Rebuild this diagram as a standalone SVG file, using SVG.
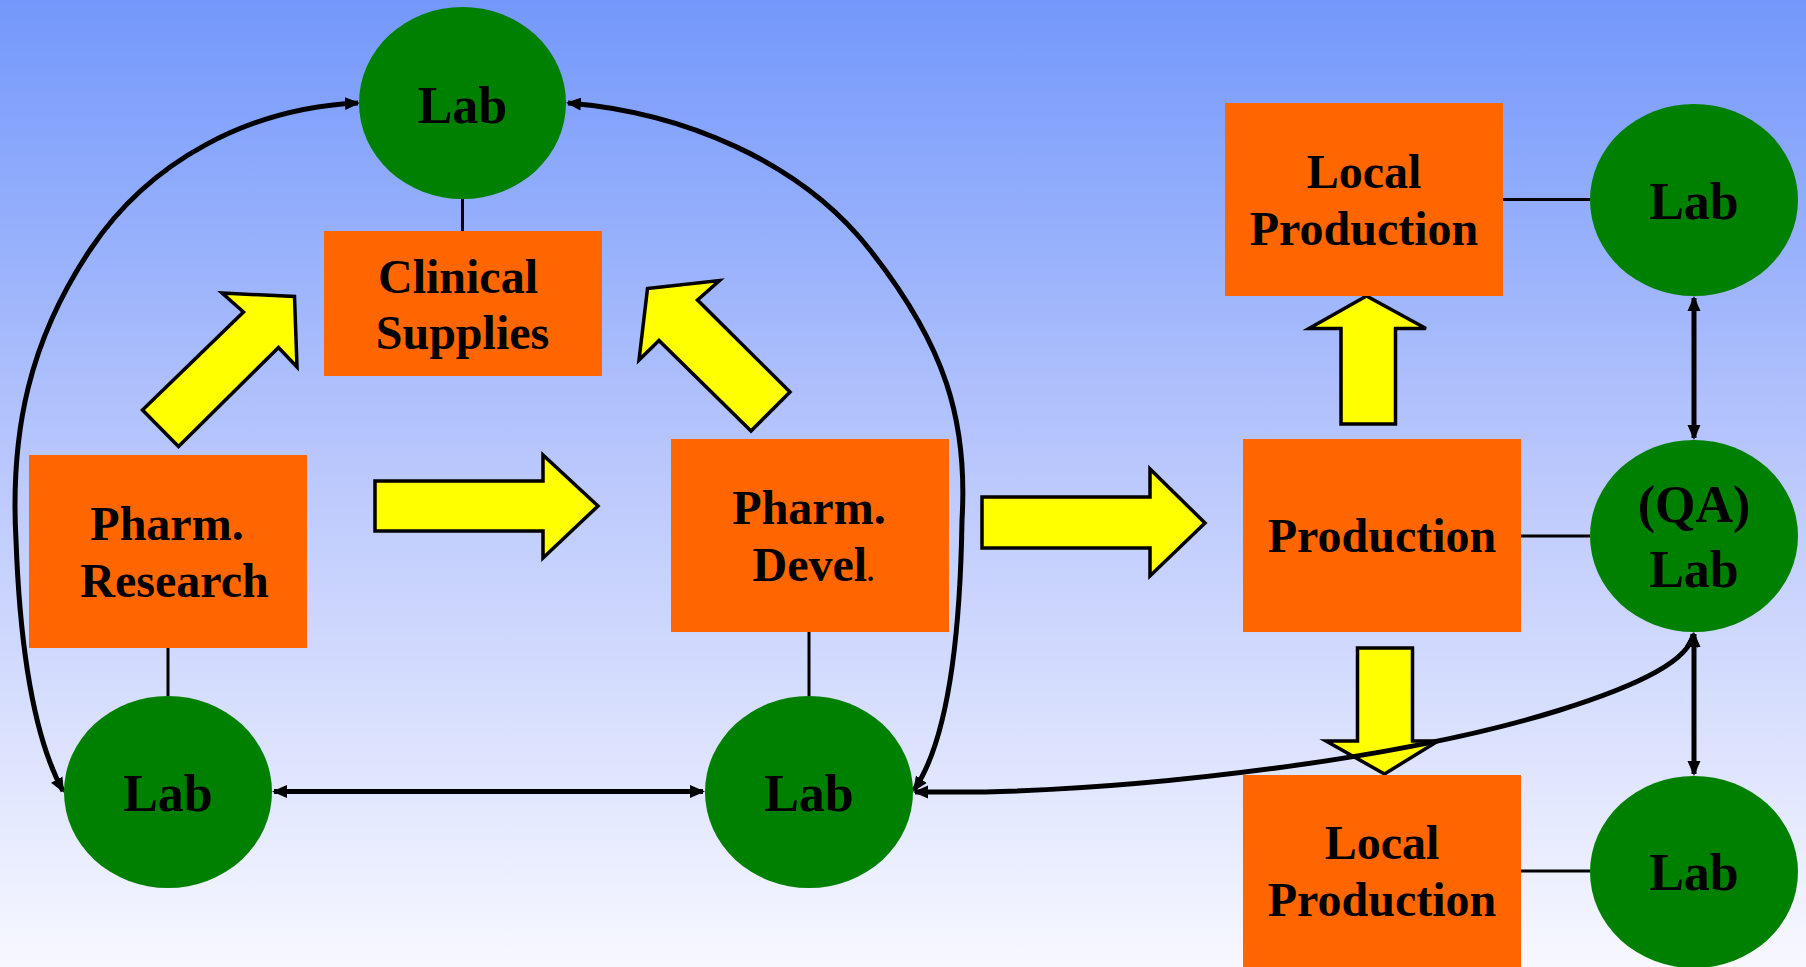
<svg xmlns="http://www.w3.org/2000/svg" width="1806" height="967" viewBox="0 0 1806 967">
<defs>
<linearGradient id="bg" x1="0" y1="0" x2="0" y2="1">
<stop offset="0" stop-color="#7398FB"/>
<stop offset="0.5" stop-color="#BCC9FC"/>
<stop offset="1" stop-color="#F7F8FF"/>
</linearGradient>
<marker id="ah" markerUnits="userSpaceOnUse" markerWidth="16" markerHeight="14" viewBox="0 0 16 14" refX="13" refY="7" orient="auto-start-reverse">
<path d="M0,0.5 L15,7 L0,13.5 z" fill="#000"/>
</marker>
<style>
.box{fill:#FF6600}
.lab{fill:#008000}
.t{font-family:"Liberation Serif","Times New Roman",serif;font-weight:bold;fill:#000;text-anchor:middle}
.bt{font-size:48px}
.lt{font-size:52px}
.ya{fill:#FFFF00;stroke:#000;stroke-width:3.5;stroke-linejoin:miter}
.ln{stroke:#000;stroke-width:3;fill:none}
.cv{stroke:#000;stroke-width:5;fill:none;marker-start:url(#ah);marker-end:url(#ah)}
</style>
</defs>
<rect x="0" y="0" width="1806" height="967" fill="url(#bg)"/>

<g id="flow-arrows">
<polygon class="ya" points="375,481 543,481 543,455 598,506 543,558 543,531 375,531"/>
<polygon class="ya" points="982,497 1150,497 1150,469 1205,523 1150,576 1150,548 982,548"/>
<polygon class="ya" points="142.5,410 243.5,312 222,293 294.5,296.5 297,367 278.5,347.5 178.5,446.5"/>
<polygon class="ya" points="647.5,288.5 719.5,280.5 697.5,300 790,392 751,431 659,340.5 639,360"/>
<polygon class="ya" points="1366.5,296 1426,328.5 1395.5,328.5 1395.5,424 1341,424 1341,328.5 1309,328.5"/>
<polygon class="ya" points="1357.5,648 1412.5,648 1412.5,741 1438,741 1384.5,774 1326,741 1357.5,741"/>
</g>

<g id="connectors">
<line class="ln" x1="462.5" y1="199" x2="462.5" y2="231"/>
<line class="ln" x1="168" y1="648" x2="168" y2="696"/>
<line class="ln" x1="809" y1="632" x2="809" y2="696"/>
<line class="ln" x1="1503" y1="199.5" x2="1590" y2="199.5"/>
<line class="ln" x1="1521" y1="536" x2="1590" y2="536"/>
<line class="ln" x1="1521" y1="871" x2="1590" y2="871"/>
<line class="cv" x1="274" y1="791.5" x2="703" y2="791.5"/>
<line class="cv" x1="1694" y1="298" x2="1694" y2="438"/>
<line class="cv" x1="1694" y1="634" x2="1694" y2="774"/>
<path class="cv" d="M 358,103 C 250,108 150,160 90,250 C 30,340 10,430 16,540 C 20,650 35,740 63,791"/>
<path class="cv" d="M 568,103 C 680,112 800,160 870,250 C 945,345 968,420 962,520 C 960,650 945,745 914,790"/>
<path class="cv" d="M 915,792 L 985,792 C 1150,788 1400,760 1560,710 C 1640,685 1690,660 1693,634"/>
</g>

<g id="lab-top">
<ellipse class="lab" cx="462.5" cy="103" rx="103.5" ry="96"/>
<text class="t lt" x="462.5" y="123">Lab</text>
</g>
<g id="clinical-supplies">
<rect class="box" x="324" y="231" width="278" height="145"/>
<text class="t bt" x="458" y="293">Clinical</text>
<text class="t bt" x="462.5" y="349">Supplies</text>
</g>
<g id="pharm-research">
<rect class="box" x="29" y="455" width="278" height="193"/>
<text class="t bt" x="167" y="539.5">Pharm.</text>
<text class="t bt" x="174.5" y="596.5">Research</text>
</g>
<g id="lab-research">
<ellipse class="lab" cx="168" cy="792" rx="104" ry="96"/>
<text class="t lt" x="168" y="811">Lab</text>
</g>
<g id="pharm-devel">
<rect class="box" x="671" y="439" width="278" height="193"/>
<text class="t bt" x="809" y="524">Pharm.</text>
<text class="t bt" x="752.5" y="580.5" style="text-anchor:start">Devel<tspan font-size="28px">.</tspan></text>
</g>
<g id="lab-devel">
<ellipse class="lab" cx="809" cy="792" rx="104" ry="96"/>
<text class="t lt" x="809" y="811">Lab</text>
</g>
<g id="local-production-top">
<rect class="box" x="1225" y="103" width="278" height="193"/>
<text class="t bt" x="1364" y="187.5">Local</text>
<text class="t bt" x="1364" y="245">Production</text>
</g>
<g id="lab-local-top">
<ellipse class="lab" cx="1694" cy="200" rx="104" ry="96"/>
<text class="t lt" x="1694" y="219">Lab</text>
</g>
<g id="production">
<rect class="box" x="1243" y="439" width="278" height="193"/>
<text class="t bt" x="1382" y="552">Production</text>
</g>
<g id="qa-lab">
<ellipse class="lab" cx="1694" cy="536" rx="104" ry="96"/>
<text class="t lt" x="1694" y="522">(QA)</text>
<text class="t lt" x="1694" y="587">Lab</text>
</g>
<g id="local-production-bottom">
<rect class="box" x="1243" y="775" width="278" height="193"/>
<text class="t bt" x="1382" y="859">Local</text>
<text class="t bt" x="1382" y="916">Production</text>
</g>
<g id="lab-local-bottom">
<ellipse class="lab" cx="1694" cy="872" rx="104" ry="96"/>
<text class="t lt" x="1694" y="890">Lab</text>
</g>
</svg>
